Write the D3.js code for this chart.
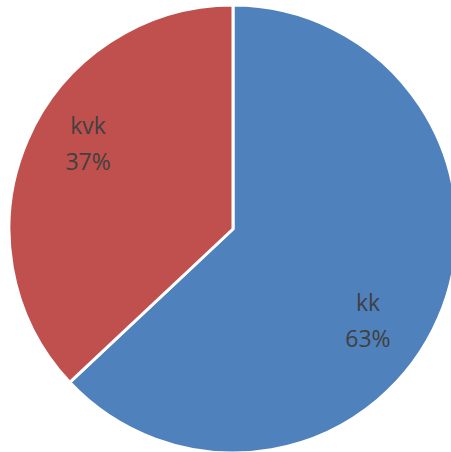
<!DOCTYPE html>
<html><head><meta charset="utf-8">
<script src="https://cdn.jsdelivr.net/npm/d3@7"></script>
<style>html,body{margin:0;padding:0;background:#fff;overflow:hidden}</style>
</head><body><svg id="c" width="451" height="452"></svg>
<script>
const categories = ["kk", "kvk"];
const values = [63, 37];
const colors = ["#4F81BD", "#C0504D"];

const svg = d3.select("#c");
const cx = 233, cy = 229, r = 224;
const g = svg.append("g").attr("transform", `translate(${cx},${cy})`);
const data = categories.map((c, i) => ({ name: c, value: values[i] }));
const pie = d3.pie().value(d => d.value).sort(null);
const arcs = pie(data);
const arc = d3.arc().innerRadius(0).outerRadius(r);
const color = d3.scaleOrdinal().domain(categories).range(colors);
const total = d3.sum(values);

g.selectAll("path").data(arcs).join("path")
  .attr("d", arc).attr("fill", d => color(d.data.name))
  .attr("stroke", "#fff").attr("stroke-width", 3).attr("stroke-linejoin", "round");

const labelR = r * 0.74, labelShift = 9 * Math.PI / 180;
const labelG = g.append("g").attr("transform", "translate(-5,3)");
function labelPos(d) {
  const a = (d.startAngle + d.endAngle) / 2 + labelShift;
  return [Math.sin(a) * labelR, -Math.cos(a) * labelR];
}
const lbl = labelG.selectAll("text.l").data(arcs).join("text").attr("class", "l")
  .attr("transform", d => `translate(${labelPos(d)})`)
  .attr("text-anchor", "middle")
  .attr("font-family", "Open Sans, sans-serif").attr("font-size", 23)
  .attr("fill", "#404040");
lbl.append("tspan").attr("x", 0).attr("y", -9.5).text(d => d.data.name);
lbl.append("tspan").attr("x", 0).attr("y", 26.5).text(d => Math.round(d.data.value / total * 100) + "%");
</script></body></html>
